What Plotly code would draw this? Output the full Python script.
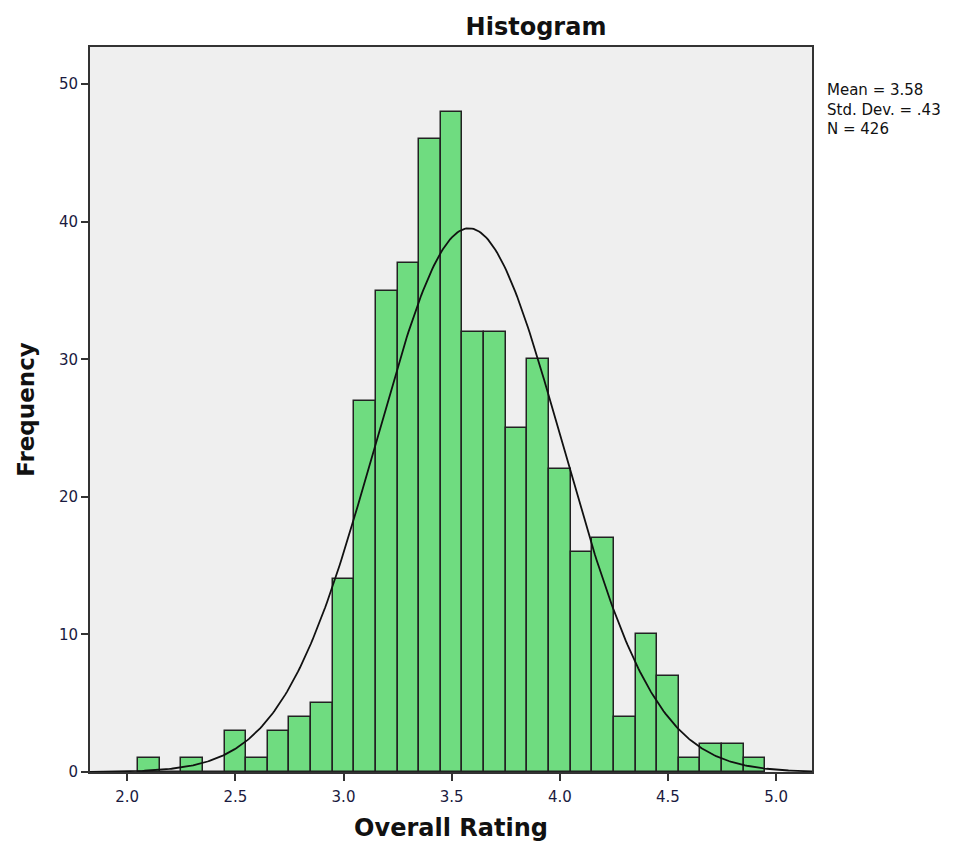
import numpy as np
import plotly.graph_objects as go

# Histogram bins (bin centres) and frequencies
bin_centers = [2.1, 2.2, 2.3, 2.4, 2.5, 2.6, 2.7, 2.8, 2.9, 3.0,
               3.1, 3.2, 3.3, 3.4, 3.5, 3.6, 3.7, 3.8, 3.9, 4.0,
               4.1, 4.2, 4.3, 4.4, 4.5, 4.6, 4.7, 4.8, 4.9]
frequencies = [1, 0, 1, 0, 3, 1, 3, 4, 5, 14,
               27, 35, 37, 46, 48, 32, 32, 25, 30, 22,
               16, 17, 4, 10, 7, 1, 2, 2, 1]
bin_width = 0.1

# Summary statistics shown on the chart
mean_val = 3.58
std_val = 0.43
n_val = 426

x_ticks = [2.0, 2.5, 3.0, 3.5, 4.0, 4.5, 5.0]
x_tick_labels = ["2.0", "2.5", "3.0", "3.5", "4.0", "4.5", "5.0"]
y_ticks = [0, 10, 20, 30, 40, 50]

x_range = [1.828, 5.166]
y_range = [0, 52.7]

# Fitted normal curve (from mean, sd, N and bin width)
xs = np.linspace(x_range[0], x_range[1], 400)
ys = n_val * bin_width / (std_val * np.sqrt(2 * np.pi)) * np.exp(-0.5 * ((xs - mean_val) / std_val) ** 2)

font_family = "'DejaVu Sans', sans-serif"

W, H = 963, 849
L, R, T, B = 82, 159, 39, 85
plot_w = W - L - R
plot_h = H - T - B

fig = go.Figure()
fig.add_trace(go.Bar(
    x=bin_centers, y=frequencies, width=bin_width,
    marker=dict(color="#6fdc80", line=dict(color="#222222", width=1.5)),
    hoverinfo="x+y", showlegend=False,
))
fig.add_trace(go.Scatter(
    x=xs, y=ys, mode="lines",
    line=dict(color="#111111", width=1.8),
    showlegend=False, hoverinfo="skip",
))

fig.update_layout(
    width=W, height=H,
    margin=dict(l=L, r=R, t=T, b=B),
    paper_bgcolor="white",
    plot_bgcolor="#efefef",
    font=dict(family=font_family, color="#1a1a40", size=15),
    bargap=0,
    title=dict(text="<b>Histogram</b>", x=528 / W, xanchor="center",
               y=1 - 19 / H, yanchor="middle",
               font=dict(size=24, color="#111111", family=font_family)),
)
fig.update_xaxes(
    range=x_range, tickvals=x_ticks, ticktext=x_tick_labels,
    showgrid=False, zeroline=False,
    showline=True, linecolor="#333333", linewidth=2, mirror=True,
    ticks="outside", ticklen=7, tickwidth=1.5, tickcolor="#333333",
    ticklabelstandoff=3,
    tickfont=dict(size=15, color="#1a1a40"),
    title=dict(text="<b>Overall Rating</b>", font=dict(size=24, color="#111111"), standoff=14),
)
fig.update_yaxes(
    range=y_range, tickvals=y_ticks,
    showgrid=False, zeroline=False,
    showline=True, linecolor="#333333", linewidth=2, mirror=True,
    ticks="outside", ticklen=7, tickwidth=1.5, tickcolor="#333333",
    tickfont=dict(size=15, color="#1a1a40"),
    title=dict(text="<b>Frequency</b>", font=dict(size=23, color="#111111"), standoff=18),
)

stat_text = "<br>".join([f"Mean = {mean_val:.2f}", f"Std. Dev. = {str(std_val)[1:]}", f"N = {n_val}"])
fig.add_annotation(
    xref="paper", yref="paper",
    x=(817 - L) / plot_w, y=1 - (102 - T) / plot_h,
    xanchor="left", yanchor="middle", align="left", showarrow=False,
    text=stat_text, font=dict(size=15, color="#111111", family=font_family),
)

fig.write_html("out.html")
